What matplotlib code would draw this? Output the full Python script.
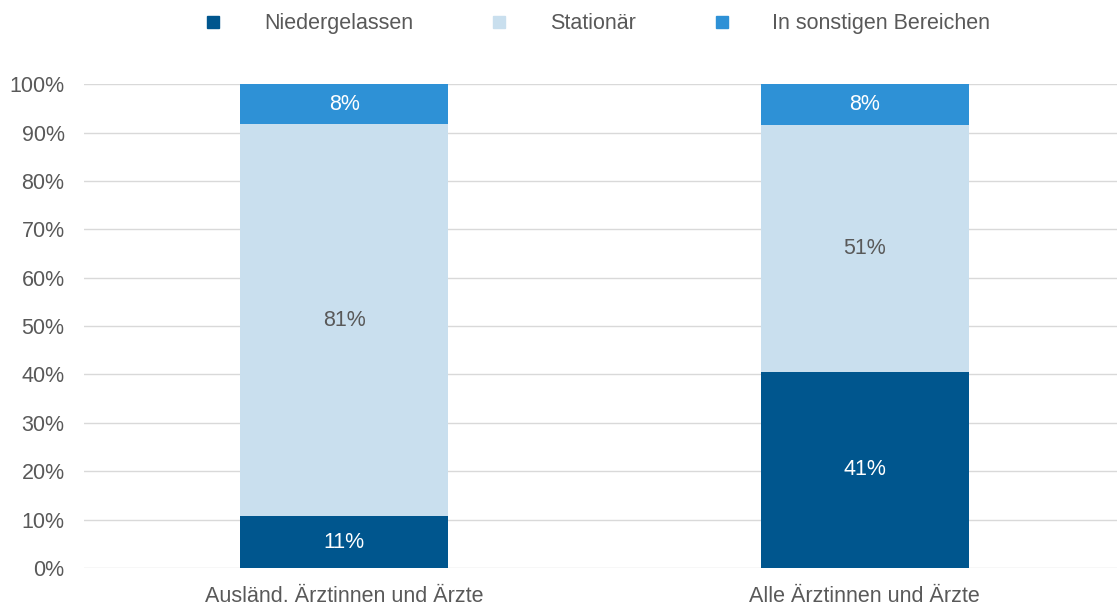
import matplotlib.pyplot as plt
import numpy as np

plt.rcParams['font.family'] = ['Liberation Sans', 'DejaVu Sans']

categories = ['Ausländ. Ärztinnen und Ärzte', 'Alle Ärztinnen und Ärzte']
series_names = ['Niedergelassen', 'Stationär', 'In sonstigen Bereichen']
niedergelassen = [10.7, 40.6]
stationaer = [81.0, 51.0]
sonstige = [8.3, 8.4]

colors = ['#00568E', '#C9DFEE', '#2E91D6']
label_colors = ['white', '#595959', 'white']
grey = '#595959'
fs = 15.5

fig = plt.figure(figsize=(11.17, 6.05), dpi=100)
ax = fig.add_axes([0.0752, 0.0612, 0.9248, 0.7996])

x = np.arange(len(categories))
bottom = np.zeros(len(categories))
for name, vals, col, lc in zip(series_names, [niedergelassen, stationaer, sonstige], colors, label_colors):
    vals = np.array(vals)
    ax.bar(x, vals, 0.4, bottom=bottom, color=col, label=name, zorder=3)
    for xi, b, v in zip(x, bottom, vals):
        ax.text(xi, b + v / 2, '%d%%' % round(v), ha='center', va='center',
                color=lc, fontsize=fs)
    bottom += vals

ax.set_xlim(-0.5, 1.485)
ax.set_ylim(0, 100)
ax.set_yticks(np.arange(0, 101, 10))
ax.set_yticklabels(['%d%%' % v for v in range(0, 101, 10)])
ax.set_xticks(x)
ax.set_xticklabels(categories)
ax.tick_params(length=0, labelsize=fs, colors=grey)
ax.tick_params(axis='y', pad=14)
ax.tick_params(axis='x', pad=13)
ax.grid(axis='y', color='#D9D9D9', linewidth=1, zorder=0)
for s in ax.spines.values():
    s.set_visible(False)

handles = [plt.Line2D([], [], marker='s', linestyle='', markersize=8, color=c) for c in colors]
fig.legend(handles, series_names, loc='upper center', bbox_to_anchor=(0.534, 1.01), ncol=3,
           frameon=False, fontsize=fs, labelcolor=grey, handletextpad=1.85,
           columnspacing=3.5, handlelength=1.0)

fig.savefig('out.png', dpi=100)
